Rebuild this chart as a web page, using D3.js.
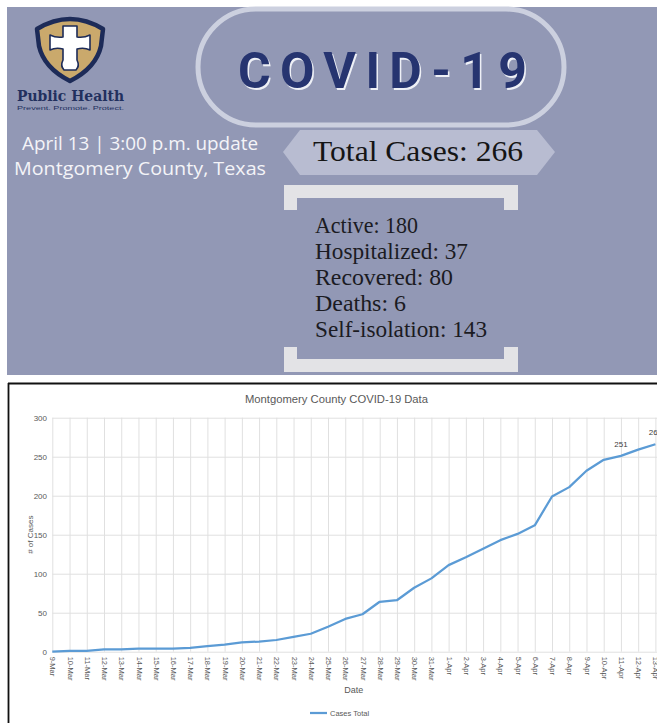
<!DOCTYPE html>
<html>
<head>
<meta charset="utf-8">
<script src="https://cdn.jsdelivr.net/npm/d3@7"></script>
<style>
  html, body { margin: 0; padding: 0; background: #fff; }
  svg { display: block; }
</style>
</head>
<body>
<div id="chart"></div>
<script>
// ---------- DATA ----------
const dates = ["9-Mar","10-Mar","11-Mar","12-Mar","13-Mar","14-Mar","15-Mar","16-Mar","17-Mar","18-Mar",
  "19-Mar","20-Mar","21-Mar","22-Mar","23-Mar","24-Mar","25-Mar","26-Mar","27-Mar","28-Mar",
  "29-Mar","30-Mar","31-Mar","1-Apr","2-Apr","3-Apr","4-Apr","5-Apr","6-Apr","7-Apr",
  "8-Apr","9-Apr","10-Apr","11-Apr","12-Apr","13-Apr"];
const casesTotal = [0,1,1,3,3,4,4,4,5,7,
  9,12,13,15,19,23,32,42,48,64,
  66,82,94,111,121,132,143,151,162,199,
  211,232,246,251,259,266];
const labeledDates = ["11-Apr","13-Apr"];
const yTicks = [0,50,100,150,200,250,300];
const seriesName = "Cases Total";
const chartTitle = "Montgomery County COVID-19 Data";
const xTitle = "Date";
const yTitle = "# of Cases";

const statLabels = ["Active","Hospitalized","Recovered","Deaths","Self-isolation"];
const statValues = [180,37,80,6,143];
const totalCases = 266;
const updateLine = "April 13 | 3:00 p.m. update";
const placeLine = "Montgomery County, Texas";

// ---------- SVG ----------
const W = 657, H = 723;
const svg = d3.select("#chart").append("svg").attr("width", W).attr("height", H);

// ---------- BANNER ----------
const banner = svg.append("g");
banner.append("rect").attr("x", 7).attr("y", 7).attr("width", W - 7).attr("height", 368).attr("fill", "#9298b5");

// pill
banner.append("rect").attr("x", 198).attr("y", 9).attr("width", 366).attr("height", 116).attr("rx", 58)
  .attr("fill", "none").attr("stroke", "#ccd0df").attr("stroke-width", 5);
const covidTxt = (dx, dy, col) => banner.append("text")
  .attr("x", 238 + dx).attr("y", 88 + dy)
  .attr("font-family", "Roboto").attr("font-weight", "bold").attr("font-size", 50)
  .attr("textLength", 289).attr("lengthAdjust", "spacing")
  .attr("fill", col).text("COVID-19");
covidTxt(1.5, 1.5, "#eef0f6");
covidTxt(0, 0, "#263470");

// logo shield
const logo = banner.append("g");
logo.append("path")
  .attr("d", "M37,29 Q70,9 103,29 L101,46 Q96,68 70,81 Q44,68 39,46 Z")
  .attr("fill", "#caa96c").attr("stroke", "#1d2b58").attr("stroke-width", 4.5).attr("stroke-linejoin", "round");
logo.append("path")
  .attr("d", "M63,26 H77 V37 Q84,38 90,35 V50 Q84,47 77,49 V60 Q80,66 76,70 H64 Q60,66 63,60 V49 Q56,47 50,50 V35 Q56,38 63,37 Z")
  .attr("fill", "#ffffff").attr("stroke", "#1d2b58").attr("stroke-width", 1.6).attr("stroke-linejoin", "round");
logo.append("text").attr("x", 17).attr("y", 101)
  .attr("font-family", "DejaVu Serif").attr("font-weight", "bold").attr("font-size", 15)
  .attr("textLength", 107).attr("lengthAdjust", "spacingAndGlyphs")
  .attr("fill", "#22305e").text("Public Health");
logo.append("text").attr("x", 17).attr("y", 110)
  .attr("font-family", "Liberation Sans").attr("font-size", 4.8)
  .attr("textLength", 107).attr("lengthAdjust", "spacingAndGlyphs")
  .attr("fill", "#22305e").text("Prevent. Promote. Protect.");

// left texts
banner.append("text").attr("x", 22).attr("y", 150)
  .attr("font-family", "Open Sans").attr("font-size", 18)
  .attr("textLength", 236).attr("lengthAdjust", "spacingAndGlyphs")
  .attr("fill", "#f4f4f8").text(updateLine);
banner.append("text").attr("x", 14).attr("y", 175)
  .attr("font-family", "Open Sans").attr("font-size", 18)
  .attr("textLength", 252).attr("lengthAdjust", "spacingAndGlyphs")
  .attr("fill", "#f4f4f8").text(placeLine);

// total cases hexagon
banner.append("polygon")
  .attr("points", "283,152 300,130 537,130 555,152 537,175 300,175")
  .attr("fill", "#b8bcd1");
banner.append("text").attr("x", 313).attr("y", 161)
  .attr("font-family", "Liberation Serif").attr("font-size", 30)
  .attr("textLength", 210).attr("lengthAdjust", "spacingAndGlyphs")
  .attr("fill", "#151515").text("Total Cases: " + totalCases);

// brackets
banner.append("path").attr("d", "M284,185 H518 V210 H504 V198 H297 V210 H284 Z").attr("fill", "#e3e3e6");
banner.append("path").attr("d", "M284,372 H518 V347 H504 V359 H297 V347 H284 Z").attr("fill", "#e3e3e6");

const statWidths = [103,153,138,91,172];
const statY = d3.scaleLinear().domain([0, statLabels.length - 1]).range([233, 337]);
banner.selectAll("text.stat").data(statLabels).join("text").attr("class", "stat")
  .attr("x", 315).attr("y", (d, i) => statY(i))
  .attr("font-family", "Liberation Serif").attr("font-size", 23)
  .attr("textLength", (d, i) => statWidths[i]).attr("lengthAdjust", "spacingAndGlyphs")
  .attr("fill", "#1b1b22")
  .text((d, i) => d + ": " + statValues[i]);

// ---------- CHART ----------
const chart = svg.append("g");
chart.append("rect").attr("x", 8).attr("y", 383).attr("width", W).attr("height", H).attr("fill", "#fff");
chart.append("line").attr("x1", 8).attr("x2", W).attr("y1", 383.5).attr("y2", 383.5).attr("stroke", "#111").attr("stroke-width", 1.8);
chart.append("line").attr("x1", 8.5).attr("x2", 8.5).attr("y1", 383).attr("y2", H).attr("stroke", "#111").attr("stroke-width", 1.8);

const x = d3.scalePoint().domain(dates).range([52.3, 655.4]);
const y = d3.scaleLinear().domain([0, 300]).range([651.7, 417.7]);

// gridlines
const gridX = chart.append("g").attr("transform", "translate(0,417.7)")
  .call(d3.axisBottom(x).tickSize(651.7 - 417.7).tickFormat(""));
gridX.select(".domain").remove();
gridX.selectAll("line").attr("stroke", "#e0e0e0").attr("stroke-width", 1);

const gridY = chart.append("g").attr("transform", "translate(52.3,0)")
  .call(d3.axisRight(y).tickValues(yTicks).tickSize(W - 52.3).tickFormat(""));
gridY.select(".domain").remove();
gridY.selectAll("line").attr("stroke", "#e0e0e0").attr("stroke-width", 1);

// y axis labels
const yAxis = chart.append("g").attr("transform", "translate(47,0)")
  .call(d3.axisLeft(y).tickValues(yTicks).tickSize(0).tickPadding(0));
yAxis.select(".domain").remove();
yAxis.selectAll("text").attr("font-family", "Liberation Sans").attr("font-size", 8).attr("fill", "#595959");

// x axis labels (rotated)
const xAxis = chart.append("g").attr("transform", "translate(0,651.7)")
  .call(d3.axisBottom(x).tickSize(0).tickPadding(0));
xAxis.select(".domain").remove();
xAxis.selectAll("text")
  .attr("font-family", "Liberation Sans").attr("font-size", 7.5).attr("fill", "#595959")
  .attr("text-anchor", "start")
  .attr("transform", "translate(0,5) rotate(90)")
  .attr("x", 0).attr("y", 0).attr("dy", "0.32em");

// axis titles
chart.append("text").attr("x", 353.8).attr("y", 692.5).attr("text-anchor", "middle")
  .attr("font-family", "Liberation Sans").attr("font-size", 9).attr("fill", "#595959").text(xTitle);
chart.append("text").attr("transform", "translate(30,534.7) rotate(-90)").attr("text-anchor", "middle")
  .attr("dy", "0.35em")
  .attr("font-family", "Liberation Sans").attr("font-size", 8).attr("fill", "#595959").text(yTitle);
chart.append("text").attr("x", 336.5).attr("y", 403).attr("text-anchor", "middle")
  .attr("font-family", "Liberation Sans").attr("font-size", 11.5)
  .attr("textLength", 183).attr("lengthAdjust", "spacingAndGlyphs")
  .attr("fill", "#595959").text(chartTitle);

// line
const data = dates.map((d, i) => ({ date: d, v: casesTotal[i] }));
chart.append("path").datum(data)
  .attr("fill", "none").attr("stroke", "#5b9bd5").attr("stroke-width", 2.25).attr("stroke-linejoin", "round")
  .attr("d", d3.line().x(d => x(d.date)).y(d => y(d.v)));

// data labels
chart.selectAll("text.dl").data(data.filter(d => labeledDates.includes(d.date))).join("text").attr("class", "dl")
  .attr("x", d => x(d.date)).attr("y", d => y(d.v) - 9).attr("text-anchor", "middle")
  .attr("font-family", "Liberation Sans").attr("font-size", 8).attr("fill", "#404040")
  .text(d => d.v);

// legend
chart.append("line").attr("x1", 310).attr("x2", 327).attr("y1", 713).attr("y2", 713)
  .attr("stroke", "#5b9bd5").attr("stroke-width", 2.25);
chart.append("text").attr("x", 330).attr("y", 713).attr("dy", "0.35em")
  .attr("font-family", "Liberation Sans").attr("font-size", 7.5).attr("fill", "#595959").text(seriesName);
</script>
</body>
</html>
